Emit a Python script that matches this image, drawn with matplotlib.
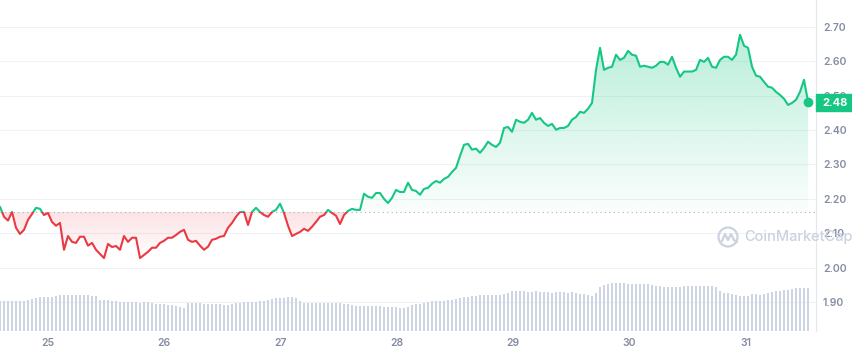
import numpy as np
import matplotlib.pyplot as plt
import matplotlib.transforms as mtransforms
from matplotlib.patches import Rectangle, Ellipse
from matplotlib.lines import Line2D
from matplotlib.path import Path
from matplotlib.colors import to_rgb

plt.rcParams['font.family'] = ['Inter', 'DejaVu Sans']

# price over the last 7 days, one sample every ~50 minutes
price = [
    2.177, 2.148, 2.137, 2.162, 2.116, 2.098, 2.110, 2.139, 2.156, 2.174,
    2.171, 2.153, 2.159, 2.133, 2.122, 2.130, 2.052, 2.092, 2.075, 2.072,
    2.090, 2.090, 2.064, 2.072, 2.052, 2.040, 2.028, 2.069, 2.060, 2.063,
    2.052, 2.092, 2.075, 2.087, 2.087, 2.028, 2.037, 2.046, 2.058, 2.058,
    2.072, 2.078, 2.087, 2.087, 2.095, 2.104, 2.110, 2.081, 2.075, 2.078,
    2.064, 2.052, 2.061, 2.081, 2.084, 2.090, 2.092, 2.116, 2.130, 2.148,
    2.162, 2.162, 2.124, 2.162, 2.174, 2.162, 2.153, 2.148, 2.162, 2.168,
    2.186, 2.159, 2.122, 2.092, 2.098, 2.104, 2.113, 2.107, 2.119, 2.133,
    2.148, 2.153, 2.168, 2.159, 2.151, 2.127, 2.153, 2.165, 2.171, 2.168,
    2.168, 2.215, 2.206, 2.203, 2.217, 2.217, 2.200, 2.188, 2.203, 2.226,
    2.220, 2.220, 2.247, 2.226, 2.223, 2.212, 2.229, 2.232, 2.244, 2.252,
    2.247, 2.258, 2.264, 2.278, 2.290, 2.325, 2.357, 2.360, 2.343, 2.346,
    2.334, 2.348, 2.366, 2.357, 2.351, 2.363, 2.406, 2.409, 2.395, 2.430,
    2.424, 2.421, 2.430, 2.450, 2.430, 2.435, 2.421, 2.412, 2.418, 2.401,
    2.406, 2.406, 2.412, 2.430, 2.438, 2.453, 2.450, 2.462, 2.479, 2.575,
    2.639, 2.575, 2.581, 2.584, 2.619, 2.604, 2.610, 2.630, 2.619, 2.616,
    2.584, 2.587, 2.584, 2.581, 2.587, 2.598, 2.598, 2.590, 2.613, 2.581,
    2.555, 2.570, 2.570, 2.570, 2.575, 2.604, 2.598, 2.610, 2.584, 2.581,
    2.604, 2.613, 2.613, 2.604, 2.619, 2.677, 2.645, 2.639, 2.584, 2.558,
    2.555, 2.540, 2.526, 2.523, 2.511, 2.502, 2.491, 2.473, 2.479, 2.488,
    2.511, 2.546, 2.482,
]

# volume (relative units), same sampling as price
volume = [
    30, 30, 30, 30, 30, 30, 30, 31, 32, 33, 34, 34, 34, 34, 35,
    36, 36, 36, 36, 36, 36, 36, 36, 35, 35, 31, 31, 31, 30, 30,
    29, 29, 29, 29, 29, 28, 29, 29, 28, 27, 27, 27, 26, 26, 25, 24, 23,
    28, 28, 28, 28, 27, 27, 27, 27, 27, 26, 26, 27,
    28, 28, 29, 29, 29, 29, 30, 30, 31, 32, 33, 33, 33, 34, 34, 33, 30,
    28, 28, 28, 28, 28, 28, 28, 28, 28, 28, 27, 27,
    26, 25, 25, 25, 25, 25, 25, 25, 24, 24, 24, 24, 23, 23, 24,
    26, 27, 27, 28, 29, 30, 30, 30, 30, 31, 31, 32, 33, 34, 34, 35, 35,
    36, 36, 36, 36, 36, 36, 37, 38, 40, 40, 40, 40, 39, 39, 40,
    39, 39, 39, 38, 39, 39, 39, 38, 39, 38, 37, 37, 36, 35, 38,
    44, 46, 47, 48, 48, 48, 48, 47, 47, 47, 47, 47, 47, 46,
    45, 45, 44, 44, 44, 44, 44, 45, 45, 45, 45, 45, 45, 45, 45, 44,
    40, 38, 38, 37, 36, 35, 35, 35, 37, 37, 36, 37, 38,
    39, 40, 40, 41, 41, 42, 43, 43, 43, 43,
]

days = [25, 26, 27, 28, 29, 30, 31]
price_ticks = [1.90, 2.00, 2.10, 2.20, 2.30, 2.40, 2.50, 2.60, 2.70]
open_price = 2.162
last_price = 2.48

green = '#16c784'
red = '#ea3943'
label_gray = '#858ca2'
wm_color = '#cbd2e0'

t_start, t_end = 24.587, 31.535
t = np.linspace(t_start, t_end, len(price))
step = t[1] - t[0]

fig = plt.figure(figsize=(8.53, 3.54), dpi=100)
rect = [0.0, 0.065, 0.9566, 0.935]
ax = fig.add_axes(rect)
ax.patch.set_visible(False)

# gradient fills, clipped to the area between price and opening price
fill = ax.fill_between(t, price, open_price, color='none', lw=0)
clip = Path.make_compound_path(*fill.get_paths())
fill.remove()

g = np.zeros((256, 1, 4))
g[..., :3] = to_rgb(green)
g[:, 0, 3] = np.linspace(0.30, 0.02, 256)
im = ax.imshow(g, extent=[t_start, t_end, open_price, 2.68], origin='upper',
               aspect='auto', zorder=1, interpolation='bilinear')
im.set_clip_path(clip, ax.transData)

r = np.zeros((256, 1, 4))
r[..., :3] = to_rgb(red)
r[:, 0, 3] = np.linspace(0.14, 0.0, 256)
im = ax.imshow(r, extent=[t_start, t_end, 2.02, open_price], origin='upper',
               aspect='auto', zorder=1, interpolation='bilinear')
im.set_clip_path(clip, ax.transData)

# line: green above the opening price, red below
for color, lo, hi in [(green, open_price, 5.0), (red, 0.0, open_price)]:
    ln, = ax.plot(t, price, color=color, lw=1.5, zorder=3,
                  solid_joinstyle='round', solid_capstyle='round')
    ln.set_clip_path(Rectangle((t_start - 1, lo), 20, hi - lo, transform=ax.transData))

ax.axhline(open_price, color='#a6b0c3', lw=0.8, dashes=(1, 3), zorder=2)
ax.plot(t[-1], price[-1], 'o', color=green, ms=6, zorder=4, clip_on=False)

ax.set_xlim(t_start, t_start + 816 / 116.3)
ax.set_ylim(1.816, 2.778)
ax.set_yticks(price_ticks)
ax.set_yticklabels(['%.2f' % v for v in price_ticks])
ax.set_xticks(days)
ax.set_xticklabels([str(d) for d in days])
ax.yaxis.tick_right()
ax.yaxis.grid(True, color='#eff2f5', lw=0.8)
ax.set_axisbelow(True)
ax.tick_params(axis='y', length=0, pad=5, labelsize=7.5, labelcolor=label_gray)
ax.tick_params(axis='x', length=0, pad=5, labelsize=7.5, labelcolor=label_gray)
for lbl in ax.get_xticklabels() + ax.get_yticklabels():
    lbl.set_fontweight('semibold')
for side in ['top', 'left', 'bottom']:
    ax.spines[side].set_visible(False)
ax.spines['right'].set_color('#e3e7ee')
ax.spines['right'].set_linewidth(0.8)

# last price badge
trans = mtransforms.blended_transform_factory(ax.transAxes, ax.transData)
ax.add_patch(Rectangle((1.0, last_price - 0.025), 37 / 816, 0.05, transform=trans,
                       color=green, clip_on=False, zorder=5))
ax.text(1.0 + 19 / 816, last_price, '%.2f' % last_price, transform=trans,
        ha='center', va='center', color='white', fontsize=8, fontweight='bold',
        zorder=6, clip_on=False)

# volume bars
vax = fig.add_axes(rect, sharex=ax)
vax.set_zorder(ax.get_zorder() + 1)
vax.patch.set_visible(False)
vax.bar(t, volume, width=step * 0.62, color='#cdd4e2', lw=0)
vax.set_ylim(0, 330)
vax.axis('off')
ax.set_xlim(t_start, t_start + 816 / 116.3)

# watermark
def px(x, y):
    return x / 853, 1 - y / 354

fig.add_artist(Ellipse(px(728, 237), 19 / 853, 19 / 354, transform=fig.transFigure,
                       fill=False, ec=wm_color, lw=1.6))
wave = [(-6, 4), (-3, -3), (0, 3), (3, -3), (6, 3), (9, 5)]
wx = [px(728 + a, 237 + b)[0] for a, b in wave]
wy = [px(728 + a, 237 + b)[1] for a, b in wave]
fig.add_artist(Line2D(wx, wy, transform=fig.transFigure, color=wm_color, lw=1.6,
                      solid_joinstyle='round', solid_capstyle='round'))
fig.text(*px(744, 237), 'CoinMarketCap', fontsize=10.5, color=wm_color,
         fontweight='medium', va='center', ha='left')

fig.savefig('out.png', dpi=100)
